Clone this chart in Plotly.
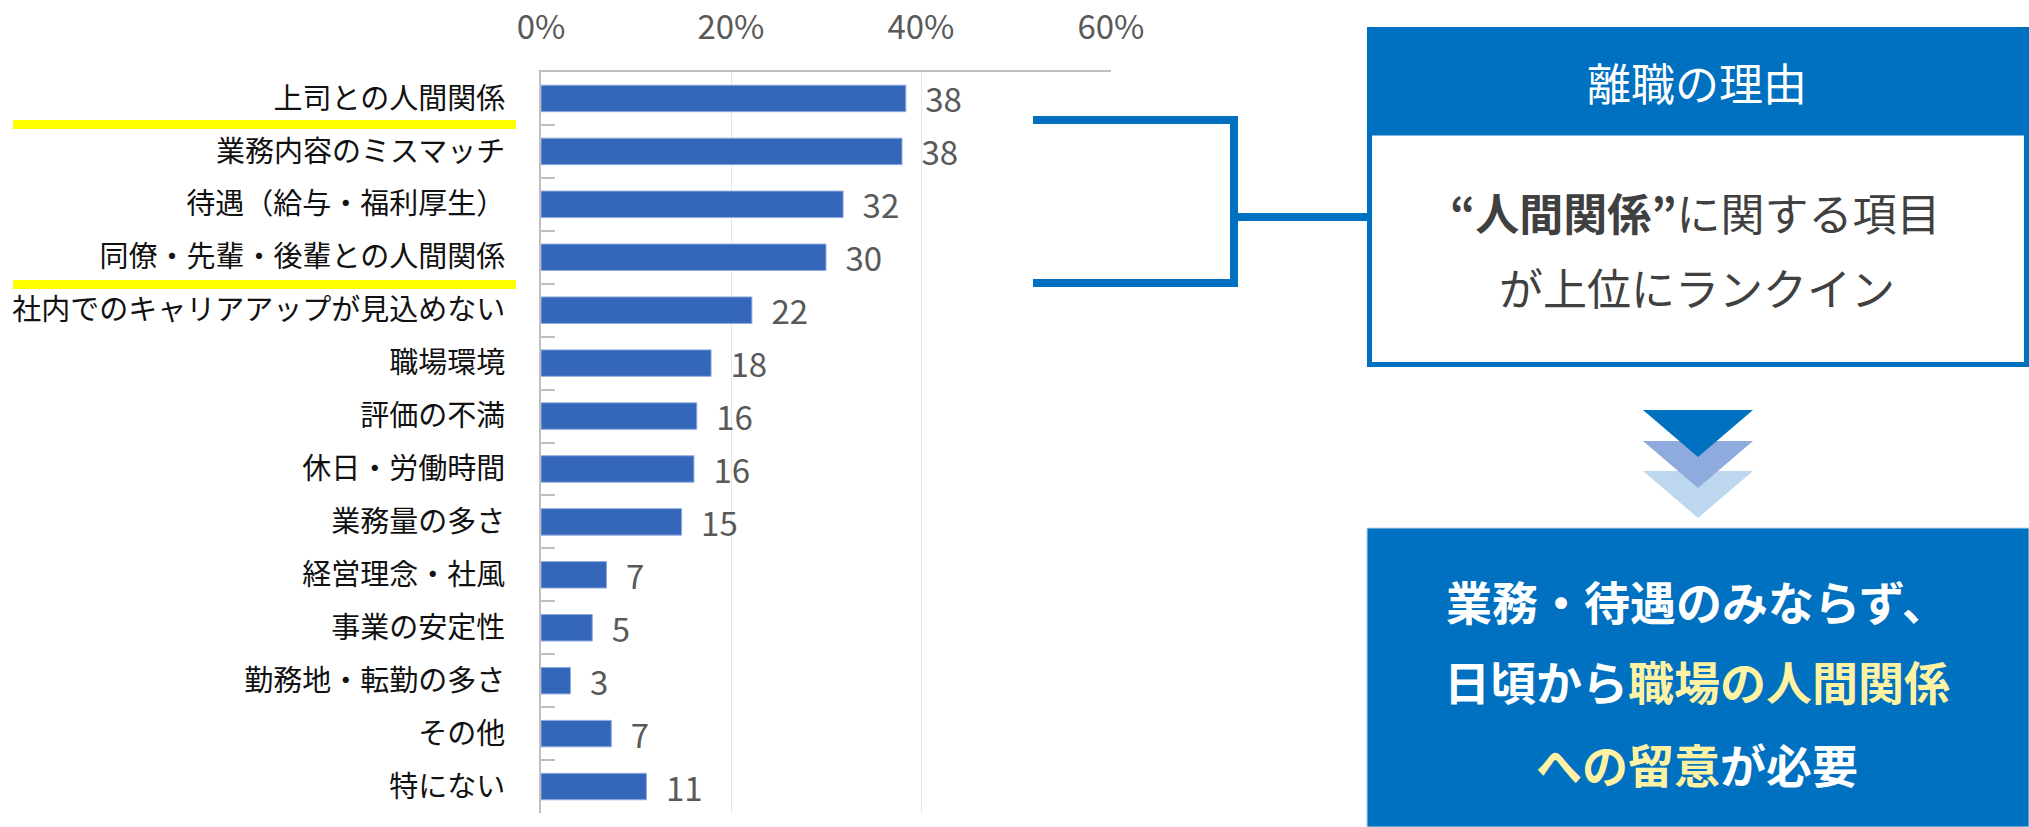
import plotly.graph_objects as go

# ---------------- data ----------------
categories = [
    "上司との人間関係",
    "業務内容のミスマッチ",
    "待遇（給与・福利厚生）",
    "同僚・先輩・後輩との人間関係",
    "社内でのキャリアアップが見込めない",
    "職場環境",
    "評価の不満",
    "休日・労働時間",
    "業務量の多さ",
    "経営理念・社風",
    "事業の安定性",
    "勤務地・転勤の多さ",
    "その他",
    "特にない",
]
values = [38.4, 38.0, 31.8, 30.0, 22.2, 17.9, 16.4, 16.1, 14.8, 6.9, 5.4, 3.1, 7.4, 11.1]
x_tickvals = [0, 20, 40, 60]
x_ticktext = ["0%", "20%", "40%", "60%"]

header_text = "離職の理由"
box_line1 = "<b>“人間関係”</b>に関する項目"
box_line2 = "が上位にランクイン"
YEL = "#FFF3A3"
concl_lines = [
    "業務・待遇のみならず、",
    f"日頃から<span style='color:{YEL}'>職場の人間関係</span>",
    f"<span style='color:{YEL}'>への留意</span>が必要",
]

W, H = 2029, 827
FONT = "Noto Sans CJK JP"
BLUE = "#0070C0"


def px(x):
    return x / W


def py(y):
    return 1 - y / H


fig = go.Figure()
fig.add_trace(go.Bar(
    y=categories,
    x=values,
    orientation="h",
    marker=dict(color="#3467B9", line=dict(color="#8FAADC", width=1)),
    texttemplate="\u2002%{x:.0f}",
    textposition="outside",
    constraintext="none",
    textfont=dict(family=FONT, size=33, color="#595959"),
    cliponaxis=False,
    width=0.5,
    hoverinfo="skip",
))

fig.update_layout(
    width=W, height=H,
    margin=dict(l=0, r=0, t=0, b=0),
    paper_bgcolor="white", plot_bgcolor="white",
    showlegend=False,
    font=dict(family=FONT),
    xaxis=dict(
        domain=[px(541), px(1111)],
        range=[0, 60],
        side="top",
        tickvals=x_tickvals,
        ticktext=x_ticktext,
        tickfont=dict(family=FONT, size=33, color="#595959"),
        showline=True, linecolor="#BFBFBF", linewidth=2,
        showgrid=True, gridcolor="#E6E6E6", gridwidth=1,
        zeroline=False,
        ticks="",
        ticklabelstandoff=18,
        automargin=False,
        fixedrange=True,
    ),
    yaxis=dict(
        domain=[py(813), py(72)],
        autorange="reversed",
        categoryorder="array", categoryarray=categories,
        tickfont=dict(family=FONT, size=29, color="#111111"),
        showline=True, linecolor="#BFBFBF", linewidth=2,
        ticks="inside", tickson="boundaries", ticklen=14, tickcolor="#BFBFBF", tickwidth=2,
        showgrid=False,
        ticklabelstandoff=28,
        automargin=False,
        fixedrange=True,
    ),
)

shapes = []
# yellow underlines
for y0 in (120, 280):
    shapes.append(dict(type="rect", xref="paper", yref="paper",
                       x0=px(13), x1=px(516), y0=py(y0 + 9), y1=py(y0),
                       fillcolor="#FFFF00", line=dict(width=0), layer="above"))
# bracket
path = (f"M {px(1033)} {py(120)} L {px(1234)} {py(120)} L {px(1234)} {py(283)} L {px(1033)} {py(283)} "
        f"M {px(1234)} {py(217)} L {px(1368)} {py(217)}")
shapes.append(dict(type="path", xref="paper", yref="paper", path=path,
                   line=dict(color=BLUE, width=8)))
# header box
shapes.append(dict(type="rect", xref="paper", yref="paper",
                   x0=px(1367), x1=px(2029), y0=py(133), y1=py(27),
                   fillcolor=BLUE, line=dict(width=0)))
# white body box with blue border
shapes.append(dict(type="rect", xref="paper", yref="paper",
                   x0=px(1369.5), x1=px(2026.5), y0=py(364.5), y1=py(133),
                   fillcolor="white", line=dict(color=BLUE, width=5)))
# chevrons (light first, dark on top)
for top, col in ((471, "#BDD7EE"), (441, "#8FAADC"), (410, BLUE)):
    tri = (f"M {px(1643)} {py(top)} L {px(1753)} {py(top)} L {px(1698)} {py(top + 47)} Z")
    shapes.append(dict(type="path", xref="paper", yref="paper", path=tri,
                       fillcolor=col, line=dict(width=0)))
# conclusion box
shapes.append(dict(type="rect", xref="paper", yref="paper",
                   x0=px(1367), x1=px(2029), y0=0, y1=py(528),
                   fillcolor=BLUE, line=dict(color="#BDD7EE", width=1)))
fig.update_layout(shapes=shapes)

ann = []
ann.append(dict(x=px(1697), y=py(82), xref="paper", yref="paper", text=header_text,
                showarrow=False, font=dict(family=FONT, size=44, color="white"),
                xanchor="center", yanchor="middle"))
ann.append(dict(x=px(1695), y=py(212), xref="paper", yref="paper", text=box_line1,
                showarrow=False, font=dict(family=FONT, size=44, color="#404040"),
                xanchor="center", yanchor="middle"))
ann.append(dict(x=px(1697), y=py(287), xref="paper", yref="paper", text=box_line2,
                showarrow=False, font=dict(family=FONT, size=44, color="#404040"),
                xanchor="center", yanchor="middle"))
for yy, t in zip((600, 680, 763), concl_lines):
    ann.append(dict(x=px(1697), y=py(yy), xref="paper", yref="paper", text=f"<b>{t}</b>",
                    showarrow=False, font=dict(family=FONT, size=46, color="white"),
                    xanchor="center", yanchor="middle"))
fig.update_layout(annotations=ann)

fig.write_html("out.html", config={"displayModeBar": False},
               post_script="document.body.style.margin='0';document.body.style.overflow='hidden';")
